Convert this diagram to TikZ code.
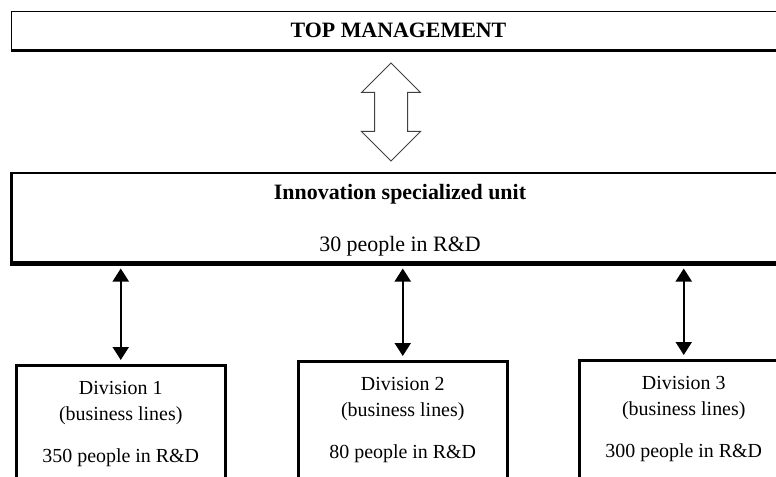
\documentclass[tikz,border=0pt]{standalone}
\usepackage{fontspec}
\setmainfont{Liberation Serif}
\usetikzlibrary{arrows.meta,positioning,calc,shapes.arrows}

\tikzset{
  divbox/.style={draw, line width=2.5bp, minimum width=209bp, minimum height=160bp, inner sep=0pt},
  divtext/.style={align=center, inner sep=0pt, font=\fontsize{20}{26}\selectfont},
  link/.style={line width=2bp, {Triangle[width=16bp,length=13bp]}-{Triangle[width=16bp,length=13bp]}}
}

\begin{document}
\begin{tikzpicture}[x=1bp, y=-1bp]
    \useasboundingbox (0,0) rectangle (776,477);
    \clip (0,0) rectangle (776,477);

    % Top management bar (runs off the right edge)
    \node[draw, line width=1bp, minimum width=800bp, minimum height=38bp, inner sep=0pt, anchor=north west] (MgmtBox) at (11,11) {};
    \draw[line width=3bp] ($(MgmtBox.south west)+(0,1)$) -- ($(MgmtBox.south east)+(0,1)$);
    \node[anchor=base, inner sep=0pt, font=\fontsize{22}{26}\selectfont\bfseries] (MgmtLabel) at (398.5,38) {TOP MANAGEMENT};

    % Innovation unit box
    \node[draw, line width=2.5bp, minimum width=800bp, minimum height=89bp, inner sep=0pt, anchor=north west] (UnitBox) at (10,172) {};
    \draw[line width=3.5bp] ($(UnitBox.south west)+(0,1)$) -- ($(UnitBox.south east)+(0,1)$);
    \node[anchor=base, inner sep=0pt, font=\fontsize{22}{26}\selectfont\bfseries] (UnitTitle) at (400,200) {Innovation specialized unit};
    \node[anchor=base, inner sep=0pt, font=\fontsize{22}{26}\selectfont] (UnitStaff) at (400,252) {30 people in R\&D};

    % Hollow double arrow between management and unit
    \node[double arrow, draw=black!75, fill=white, line width=1bp, rotate=90,
      minimum height=98bp, inner xsep=0pt, inner ysep=16bp, double arrow head extend=13bp,
      double arrow tip angle=90] (MgmtLink) at (391,112) {};

    % Divisions
    \foreach \i/\x/\y/\ppl in {1/15/364/350, 2/297/360/80, 3/578/359/300} {
      \node[divbox, anchor=north west] (div\i) at (\x,\y) {};
      \node[divtext, anchor=north] (div\i label) at ($(div\i.north)+(0,17)$)
        {Division \i\\(business lines)\\[16bp]\ppl{} people in R\&D};
      \draw[link, shorten <=4bp, shorten >=5bp] (div\i.north) -- (UnitBox.south -| div\i.north);
    }
\end{tikzpicture}
\end{document}
